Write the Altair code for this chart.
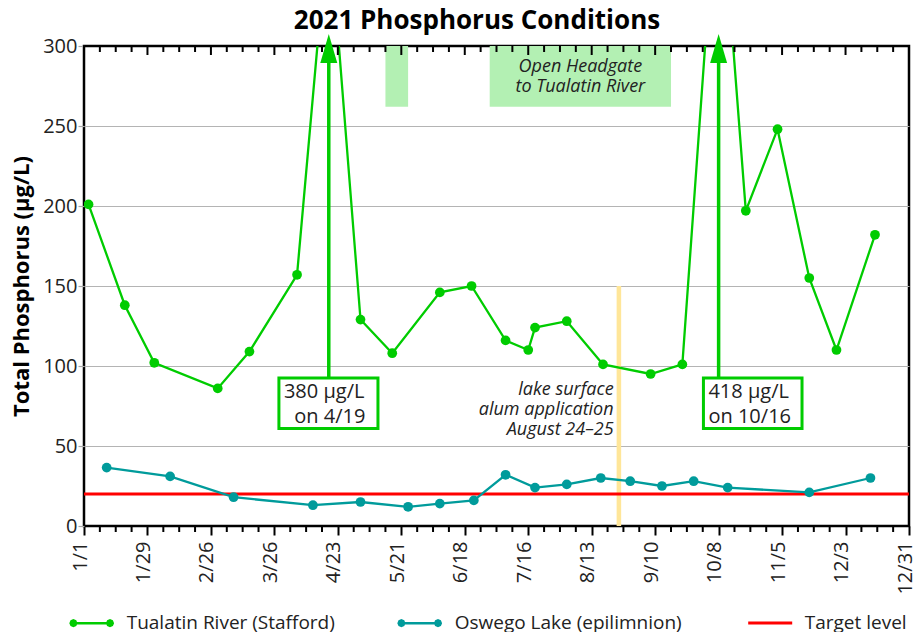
import datetime as dt
import math
import altair as alt
import pandas as pd

YEAR = 2021

# ---------------- data ----------------
chart_title = "2021 Phosphorus Conditions"
series_names = ["Tualatin River (Stafford)", "Oswego Lake (epilimnion)", "Target level"]

tualatin_dates = ["1/3", "1/19", "2/1", "3/1", "3/15", "4/5", "4/19", "5/3", "5/17", "6/7",
                  "6/21", "7/6", "7/16", "7/19", "8/2", "8/18", "9/8", "9/22", "10/8",
                  "10/20", "11/3", "11/17", "11/29", "12/16"]
tualatin_tp = [201, 138, 102, 86, 109, 157, 380, 129, 108, 146,
               150, 116, 110, 124, 128, 101, 95, 101, 418,
               197, 248, 155, 110, 182]

oswego_dates = ["1/11", "2/8", "3/8", "4/12", "5/3", "5/24", "6/7", "6/22", "7/6", "7/19",
                "8/2", "8/17", "8/30", "9/13", "9/27", "10/12", "11/17", "12/14"]
oswego_tp = [36.5, 31, 18, 13, 15, 12, 14, 16, 32, 24,
             26, 30, 28, 25, 28, 24, 21, 30]

target_level = [20]

x_tick_labels = ["1/1", "1/29", "2/26", "3/26", "4/23", "5/21", "6/18", "7/16",
                 "8/13", "9/10", "10/8", "11/5", "12/3", "12/31"]
y_tick_values = [0, 50, 100, 150, 200, 250, 300]

# annotations
headgate_start = ["5/14", "6/29"]
headgate_end = ["5/24", "9/17"]
headgate_bottom = [262, 262]
headgate_top = [300, 300]
headgate_text = ["Open Headgate", "to Tualatin River"]

alum_start = ["8/24"]
alum_end = ["8/26"]
alum_top = [150]
alum_text = ["lake surface", "alum application", "August 24\u201325"]

peak_dates = ["4/19", "10/8"]
peak_labels = [["380 \u00b5g/L", "\u200b\u00a0\u00a0on 4/19"], ["418 \u00b5g/L", "on 10/16"]]
box_left = [86.0, 273.3]
box_right = [129.7, 316.8]
box_bottom = [61, 61]
box_top = [92.5, 92.5]


def doy(s):
    m, d = (int(v) for v in s.split("/"))
    return (dt.date(YEAR, m, d) - dt.date(YEAR, 1, 1)).days


# ---------------- styles ----------------
GREEN = "#00cc00"
TEAL = "#009b9b"
RED = "#ff0000"
FONT = "Open Sans"
TXT = "#222222"

series_df = pd.DataFrame({
    "day": [doy(s) for s in tualatin_dates] + [doy(s) for s in oswego_dates],
    "tp": tualatin_tp + oswego_tp,
    "series": [series_names[0]] * len(tualatin_tp) + [series_names[1]] * len(oswego_tp),
})
target_df = pd.DataFrame({"tp": target_level, "series": [series_names[2]]})
headgate_df = pd.DataFrame({
    "start": [doy(s) for s in headgate_start],
    "end": [doy(s) for s in headgate_end],
    "lo": headgate_bottom, "hi": headgate_top,
})
headgate_txt_df = pd.DataFrame({
    "day": [(doy(headgate_start[1]) + doy(headgate_end[1])) / 2],
    "y": [284], "text": [headgate_text],
})
alum_df = pd.DataFrame({
    "start": [doy(s) for s in alum_start], "end": [doy(s) for s in alum_end],
    "lo": [0], "hi": alum_top, "text": [alum_text], "ty": [81.6],
})
peak_df = pd.DataFrame({
    "day": [doy(s) for s in peak_dates],
    "left": box_left, "right": box_right, "lo": box_bottom, "hi": box_top,
    "text": peak_labels, "ty": [80, 80], "head": [298.5, 298.5], "top": [296, 296],
})

major_ticks = [doy(s) for s in x_tick_labels]
minor_ticks = [d for d in range(0, 365, 7) if d not in major_ticks]
major_df = pd.DataFrame({"day": major_ticks, "ytop": 300})
minor_df = pd.DataFrame({"day": minor_ticks, "ytop": 300, "ybot": 0})
title_df = pd.DataFrame({"t": [chart_title]})

X_SCALE = alt.Scale(domain=[0, 364], nice=False, zero=False)
Y_SCALE = alt.Scale(domain=[0, 300], nice=False, zero=False)

label_expr = "timeFormat(datetime(2021, 0, 1 + datum.value), '%-m/%-d')"

x_axis = alt.Axis(orient="bottom", values=major_ticks, labelExpr=label_expr,
                  labelAngle=270, labelAlign="right", labelBaseline="alphabetic",
                  labelOffset=2,
                  labelFontSize=20, labelColor=TXT, labelFont=FONT, labelPadding=6,
                  labelOverlap=False, labelFlush=False,
                  tickSize=9, tickWidth=2, tickColor="black",
                  domain=False, grid=False, title=None)

y_axis = alt.Axis(values=y_tick_values, labelFontSize=20, labelColor=TXT, labelFont=FONT,
                  labelPadding=1, tickColor="#aaaaaa", tickSize=6, tickWidth=1.2,
                  domain=False, grid=True, gridWidth=1.2,
                  gridColor={"condition": {"test": "datum.value == 0 || datum.value == 300",
                                           "value": "rgba(0,0,0,0)"},
                             "value": "#b4b4b4"},
                  title="Total Phosphorus (\u00b5g/L)", titleFontSize=22, titleFont=FONT,
                  titleFontWeight="bold", titleColor="black", titleX=-56, titleY=240,
                  titleBaseline="alphabetic", titleAngle=270, titleAlign="center")


def octagon(cx, r):
    pts = [(cx + r * math.cos(k * math.pi / 4), r * math.sin(k * math.pi / 4)) for k in range(8)]
    return "M" + "L".join(f"{x:.3f},{y:.3f}" for x, y in pts) + "Z"


legend_a_symbol = ("M-1,0L1,0" + octagon(-1, 0.15) + octagon(-1, 0.068)
                   + octagon(1, 0.15) + octagon(1, 0.068))

legend_a = alt.Legend(title=None, orient="none", legendX=-12.3, legendY=557.2,
                      direction="horizontal", symbolType=legend_a_symbol, symbolSize=1340,
                      symbolStrokeWidth=2.5, labelFontSize=19, labelColor=TXT, labelFont=FONT,
                      labelOffset=15, columnPadding=57, padding=0, labelLimit=400)
legend_b = alt.Legend(title=None, orient="none", legendX=662.7, legendY=553.5,
                      direction="horizontal", symbolType="M-1,0L1,0", symbolSize=1936,
                      symbolStrokeWidth=3, labelFontSize=19, labelColor=TXT, labelFont=FONT,
                      labelOffset=11, padding=0, labelLimit=400)


def X(f):
    return alt.X(f, scale=X_SCALE, axis=x_axis)


def Y(f):
    return alt.Y(f, scale=Y_SCALE, axis=y_axis)


# ---------------- layers ----------------
headgate = alt.Chart(headgate_df).mark_rect(color="#b3f0b3").encode(
    x=X("start:Q"), x2="end:Q", y=Y("lo:Q"), y2="hi:Q")

alum = alt.Chart(alum_df).mark_rect(color="#ffe699").encode(
    x=X("start:Q"), x2="end:Q", y=Y("lo:Q"), y2="hi:Q")

target = alt.Chart(target_df).mark_rule(strokeWidth=3).encode(
    y=Y("tp:Q"),
    color=alt.Color("series:N", scale=alt.Scale(domain=[series_names[2]], range=[RED]),
                    legend=legend_b))

color_ab = alt.Color("series:N", scale=alt.Scale(domain=series_names[:2], range=[GREEN, TEAL]),
                     legend=legend_a)
lines = alt.Chart(series_df).mark_line(strokeWidth=2.3, clip=True).encode(
    x=X("day:Q"), y=Y("tp:Q"), color=color_ab)
points = alt.Chart(series_df).mark_point(filled=True, size=95, opacity=1, clip=True).encode(
    x=X("day:Q"), y=Y("tp:Q"), color=color_ab)
series = alt.layer(lines, points)

# tick marks: minor ticks below the bottom edge, major + minor ticks inside the top edge
bottom_minor = alt.Chart(minor_df).mark_rule(color="black", strokeWidth=2, y2Offset=6).encode(
    x=X("day:Q"), y=Y("ybot:Q"), y2="ybot:Q")
top_major = alt.Chart(major_df).mark_rule(color="black", strokeWidth=2, y2Offset=9).encode(
    x=X("day:Q"), y=Y("ytop:Q"), y2="ytop:Q")
top_minor = alt.Chart(minor_df).mark_rule(color="black", strokeWidth=2, y2Offset=6).encode(
    x=X("day:Q"), y=Y("ytop:Q"), y2="ytop:Q")

arrows = alt.Chart(peak_df).mark_rule(color=GREEN, strokeWidth=3.5).encode(
    x=X("day:Q"), y=Y("hi:Q"), y2="top:Q")
heads = alt.Chart(peak_df).mark_point(shape="M0,-1L0.586,1L-0.586,1Z", filled=True, size=841,
                                      color=GREEN, opacity=1).encode(
    x=X("day:Q"), y=Y("head:Q"))
boxes = alt.Chart(peak_df).mark_rect(fill="white", stroke=GREEN, strokeWidth=3).encode(
    x=X("left:Q"), x2="right:Q", y=Y("lo:Q"), y2="hi:Q")
box_text = alt.Chart(peak_df).mark_text(align="left", baseline="alphabetic", dx=5, fontSize=20,
                                        lineHeight=25, color=TXT, font=FONT).encode(
    x=X("left:Q"), y=Y("ty:Q"), text="text")
hg_text = alt.Chart(headgate_txt_df).mark_text(align="center", baseline="alphabetic", fontSize=18,
                                               fontStyle="italic", lineHeight=20, color=TXT,
                                               font=FONT).encode(
    x=X("day:Q"), y=Y("y:Q"), text="text")
al_text = alt.Chart(alum_df).mark_text(align="right", baseline="alphabetic", dx=-3, fontSize=18,
                                       fontStyle="italic", lineHeight=20, color=TXT,
                                       font=FONT).encode(
    x=X("start:Q"), y=Y("ty:Q"), text="text")

# chart title, centred above the plot
title_mark = alt.Chart(title_df).mark_text(align="center", baseline="alphabetic", fontSize=26,
                                           fontWeight="bold", color="black", font=FONT).encode(
    x=alt.value(393), y=alt.value(-16.7), text="t")

chart = alt.layer(
    headgate, alum, target, series, bottom_minor, top_major, top_minor,
    arrows, heads, boxes, box_text, hg_text, al_text, title_mark
).resolve_scale(color="independent").properties(
    width=825, height=480,
    autosize=alt.AutoSizeParams(type="none"),
    padding={"left": 76, "top": 38, "right": 4, "bottom": 106},
).configure(
    font=FONT,
    view=alt.ViewConfig(stroke="black", strokeWidth=2.5),
)

chart.save("out.html", embed_options={"renderer": "svg", "actions": False})
